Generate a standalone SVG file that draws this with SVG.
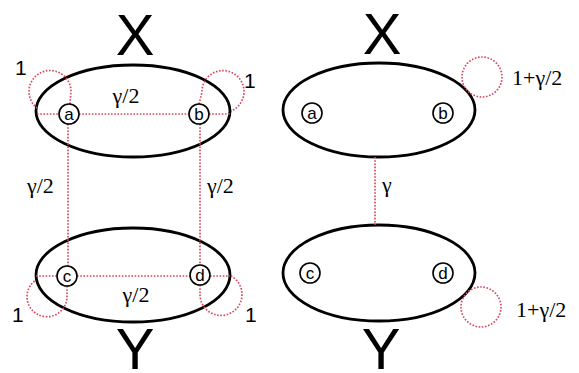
<svg xmlns="http://www.w3.org/2000/svg" width="579" height="373" viewBox="0 0 579 373">
<style>
.ell{fill:none;stroke:#000;stroke-width:2.8}
.node{fill:#fff;stroke:#000;stroke-width:1.6}
.nl{font-family:"Liberation Sans",Arial,sans-serif;font-size:17px;text-anchor:middle;fill:#000}
.dot{fill:none;stroke:#d9485c;stroke-width:1.7;stroke-dasharray:1.6 1.6}
.big{font-family:"Liberation Sans",Arial,sans-serif;font-size:58px;text-anchor:middle;fill:#000}
.one{font-family:"Liberation Sans",Arial,sans-serif;font-size:21px;fill:#000}
.ser{font-family:"Liberation Serif","Times New Roman",serif;font-size:22px;fill:#000}
</style>
<rect width="579" height="373" fill="#fff"/>
<g id="groups">
<g id="X-left"><ellipse class="ell" cx="133" cy="111" rx="97" ry="46"/><text class="big" x="135" y="55">X</text></g>
<g id="Y-left"><ellipse class="ell" cx="133" cy="275" rx="97" ry="47"/><text class="big" x="135" y="369">Y</text></g>
<g id="X-right"><ellipse class="ell" cx="379" cy="110" rx="96" ry="47"/><text class="big" x="382" y="54">X</text></g>
<g id="Y-right"><ellipse class="ell" cx="379" cy="273" rx="96" ry="48"/><text class="big" x="381" y="369">Y</text></g>
</g>
<g id="connectors">
<line class="dot" x1="37" y1="114" x2="59" y2="114"/>
<line class="dot" x1="79" y1="114" x2="189" y2="114"/>
<line class="dot" x1="209" y1="114" x2="231" y2="114"/>
<line class="dot" x1="36" y1="276" x2="57" y2="276"/>
<line class="dot" x1="77" y1="276" x2="190" y2="276"/>
<line class="dot" x1="210" y1="276" x2="230" y2="276"/>
<line class="dot" x1="68" y1="124" x2="68" y2="266"/>
<line class="dot" x1="200" y1="124" x2="200" y2="265"/>
<path class="dot" d="M 70 104 L 71 91 A 21 21 0 1 0 37 108"/>
<path class="dot" d="M 199 104 L 202 92 A 21 21 0 1 1 231 111"/>
<path class="dot" d="M 67 286 L 67 297 A 20 20 0 1 1 36 280"/>
<path class="dot" d="M 200 285 L 200 294 A 21 21 0 1 0 231 276"/>
<line class="dot" x1="375" y1="157" x2="375" y2="225"/>
<circle class="dot" cx="482" cy="77" r="20"/>
<circle class="dot" cx="481" cy="307" r="20"/>
</g>
<g id="labels">
<text class="ser" x="126" y="103" text-anchor="middle">γ/2</text>
<text class="ser" x="136" y="302" text-anchor="middle">γ/2</text>
<text class="ser" x="27" y="193">γ/2</text>
<text class="ser" x="207" y="193">γ/2</text>
<text class="ser" x="382" y="192">γ</text>
<text class="ser" x="512" y="85">1+γ/2</text>
<text class="ser" x="516" y="317">1+γ/2</text>
<text class="one" x="15" y="75">1</text>
<text class="one" x="244" y="88">1</text>
<text class="one" x="12" y="322">1</text>
<text class="one" x="245" y="322">1</text>
</g>
<g id="node-a-left"><circle class="node" cx="69" cy="114" r="10"/><text class="nl" x="69" y="120">a</text></g>
<g id="node-b-left"><circle class="node" cx="199" cy="114" r="10"/><text class="nl" x="199" y="120">b</text></g>
<g id="node-c-left"><circle class="node" cx="67" cy="276" r="10"/><text class="nl" x="67" y="282">c</text></g>
<g id="node-d-left"><circle class="node" cx="200" cy="275" r="10"/><text class="nl" x="200" y="281">d</text></g>
<g id="node-a-right"><circle class="node" cx="312" cy="113" r="10"/><text class="nl" x="312" y="119">a</text></g>
<g id="node-b-right"><circle class="node" cx="443" cy="113" r="10"/><text class="nl" x="443" y="119">b</text></g>
<g id="node-c-right"><circle class="node" cx="310" cy="273" r="10"/><text class="nl" x="310" y="279">c</text></g>
<g id="node-d-right"><circle class="node" cx="443" cy="273" r="10"/><text class="nl" x="443" y="279">d</text></g>
</svg>
